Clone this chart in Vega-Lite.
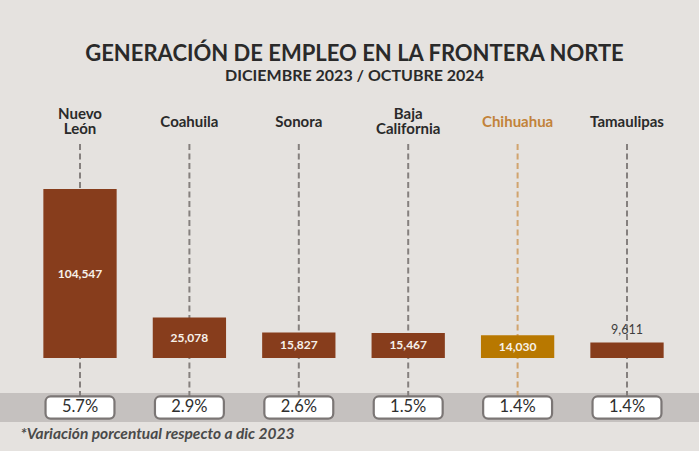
{
  "$schema": "https://vega.github.io/schema/vega-lite/v6.json",
  "autosize": {"type": "none"},
  "width": 699,
  "height": 278,
  "padding": {"top": 144, "bottom": 29, "left": 0, "right": 0},
  "background": "#e5e2df",
  "config": {"view": {"stroke": null}},
  "title": {
    "text": "GENERACIÓN DE EMPLEO EN LA FRONTERA NORTE",
    "subtitle": "DICIEMBRE 2023 / OCTUBRE 2024",
    "font": "Lato", "fontSize": 22, "fontWeight": "bold", "color": "#2a2a2a",
    "subtitleFont": "Lato", "subtitleFontSize": 16, "subtitleFontWeight": "bold", "subtitleColor": "#2a2a2a",
    "subtitlePadding": 2, "anchor": "middle", "frame": "group", "dx": 5, "offset": 22
  },
  "data": {"values": [
    {"state": "Nuevo León", "value": 104547, "pct": 0.057},
    {"state": "Coahuila", "value": 25078, "pct": 0.029},
    {"state": "Sonora", "value": 15827, "pct": 0.026},
    {"state": "Baja California", "value": 15467, "pct": 0.015},
    {"state": "Chihuahua", "value": 14030, "pct": 0.014},
    {"state": "Tamaulipas", "value": 9611, "pct": 0.014}
  ]},
  "resolve": {"scale": {"y": "independent"}},
  "layer": [
    {
      "data": {"values": [{"band": "pct"}]},
      "mark": {"type": "rect", "color": "#c5c1bf"},
      "encoding": {
        "y": {"datum": -21700, "type": "quantitative", "scale": {"domain": [-39600, 132400], "nice": false, "zero": false}, "axis": null},
        "y2": {"datum": -39600}
      }
    },
    {
      "mark": {"type": "rule", "strokeDash": [6, 3.5], "strokeWidth": 2},
      "encoding": {
        "x": {"field": "state", "type": "nominal", "sort": null},
        "y": {"datum": 132400, "type": "quantitative", "scale": {"domain": [-39600, 132400], "nice": false, "zero": false}, "axis": null},
        "y2": {"datum": -24000},
        "color": {"condition": {"test": "datum.state === 'Chihuahua'", "value": "#d1a46e"}, "value": "#85807e"}
      }
    },
    {
      "mark": {"type": "bar", "width": {"band": 0.67}},
      "encoding": {
        "x": {
          "field": "state", "type": "nominal", "sort": null,
          "scale": {"paddingInner": 0, "paddingOuter": 0.1947, "align": 0.594},
          "axis": {
            "orient": "top", "title": null, "domain": false, "ticks": false, "tickSize": 0,
            "labelAngle": 0, "labelAlign": "center", "labelFont": "Lato", "labelFontSize": 15, "labelFontWeight": "bold",
            "labelBaseline": "middle", "labelLineHeight": 15,
            "labelPadding": {"condition": {"test": "datum.value === 'Nuevo León' || datum.value === 'Baja California'", "value": 30.5}, "value": 23},
            "labelColor": {"condition": {"test": "datum.value === 'Chihuahua'", "value": "#c2823a"}, "value": "#2a2a2a"},
            "labelExpr": "datum.value === 'Nuevo León' ? ['Nuevo', 'León'] : datum.value === 'Baja California' ? ['Baja', 'California'] : datum.value"
          }
        },
        "y": {
          "field": "value", "type": "quantitative",
          "scale": {"domain": [-39600, 132400], "nice": false, "zero": false},
          "axis": {
            "domain": false, "ticks": false, "labels": false, "grid": false,
            "title": "*Variación porcentual respecto a dic 2023",
            "titleAngle": 0, "titleAlign": "left", "titleBaseline": "alphabetic",
            "titleX": 20, "titleY": 294, "titleFont": "Lato", "titleFontSize": 15.5,
            "titleFontWeight": "bold", "titleFontStyle": "italic", "titleColor": "#4a4a4a"
          }
        },
        "y2": {"datum": 0},
        "color": {"condition": {"test": "datum.state === 'Chihuahua'", "value": "#b87800"}, "value": "#873d1c"}
      }
    },
    {
      "transform": [{"filter": "datum.state !== 'Tamaulipas'"}],
      "mark": {"type": "text", "font": "Lato", "fontSize": 12, "fontWeight": "bold", "color": "#f7f1ea", "baseline": "middle"},
      "encoding": {
        "x": {"field": "state", "type": "nominal", "sort": null},
        "y": {"field": "value", "type": "quantitative", "scale": {"domain": [-79200, 264800], "nice": false, "zero": false}, "axis": null},
        "text": {"field": "value", "type": "quantitative", "format": ","}
      }
    },
    {
      "transform": [{"filter": "datum.state === 'Tamaulipas'"}],
      "mark": {"type": "text", "font": "Lato", "fontSize": 12.5, "color": "#3d3d3d", "baseline": "middle", "dy": -12},
      "encoding": {
        "x": {"field": "state", "type": "nominal", "sort": null},
        "y": {"field": "value", "type": "quantitative", "scale": {"domain": [-39600, 132400], "nice": false, "zero": false}, "axis": null},
        "text": {"field": "value", "type": "quantitative", "format": ","}
      }
    },
    {
      "mark": {"type": "bar", "width": {"band": 0.63}, "fill": "#ffffff", "stroke": "#7b7675", "strokeWidth": 2.2, "cornerRadius": 5},
      "encoding": {
        "x": {"field": "state", "type": "nominal", "sort": null},
        "y": {"datum": -23800, "type": "quantitative", "scale": {"domain": [-39600, 132400], "nice": false, "zero": false}, "axis": null},
        "y2": {"datum": -37500}
      }
    },
    {
      "mark": {"type": "text", "font": "Lato", "fontSize": 16.5, "color": "#2e2e2e", "baseline": "middle"},
      "encoding": {
        "x": {"field": "state", "type": "nominal", "sort": null},
        "y": {"datum": -30500, "type": "quantitative", "scale": {"domain": [-39600, 132400], "nice": false, "zero": false}, "axis": null},
        "text": {"field": "pct", "type": "quantitative", "format": ".1%"}
      }
    }
  ]
}
